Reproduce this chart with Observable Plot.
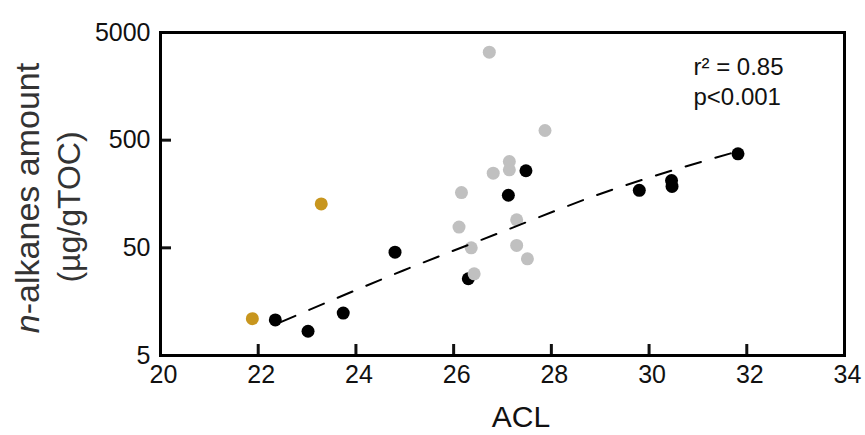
<!DOCTYPE html>
<html><head><meta charset="utf-8">
<script src="https://cdn.jsdelivr.net/npm/d3@7"></script>
<script src="https://cdn.jsdelivr.net/npm/@observablehq/plot@0.6"></script>
<style>body{margin:0;background:#fff;}</style>
</head><body><div id="chart"></div>
<script>
const xTicks = [20, 22, 24, 26, 28, 30, 32, 34];
const yTicks = [5, 50, 500, 5000];
const blackACL = [22.35, 23.02, 23.74, 24.80, 26.30, 27.12, 27.48, 29.80, 30.46, 30.47, 31.82];
const blackAmount = [10.7, 8.4, 12.4, 45.6, 25.8, 154, 260, 171, 211, 186, 373];
const grayACL = [26.73, 27.87, 27.14, 27.14, 26.81, 26.16, 26.11, 27.29, 26.36, 27.29, 27.51, 26.42];
const grayAmount = [3280, 615, 317, 265, 247, 163, 78, 91, 50, 52.6, 39.5, 28.7];
const goldACL = [21.88, 23.29];
const goldAmount = [11.0, 128];
const trendACL = [22.46, 24.97, 26.92, 29.01, 31.81];
const trendAmount = [10.2, 30.8, 68.4, 159, 393];
const statsText = "r² = 0.85\np<0.001";
const xLabel = "ACL";
const yLabelItalic = "n";
const yLabelRest = "-alkanes amount";
const yLabelUnit = "(µg/gTOC)";

const zip = (xs, ys) => xs.map((x, i) => ({x, y: ys[i]}));
const black = zip(blackACL, blackAmount);
const gray = zip(grayACL, grayAmount);
const gold = zip(goldACL, goldAmount);
const trend = zip(trendACL, trendAmount);

const plot = Plot.plot({
  width: 865,
  height: 435,
  marginLeft: 160,
  marginRight: 21,
  marginTop: 32,
  marginBottom: 80,
  style: {fontFamily: "'Liberation Sans', Arial, sans-serif", background: "#fff", color: "#111"},
  x: {domain: [20, 34]},
  y: {type: "log", domain: [5, 5000]},
  marks: [
    Plot.axisX({anchor: "bottom", ticks: xTicks, tickSize: -11, strokeWidth: 3, fill: "none", label: null, tickFormat: () => ""}),
    Plot.axisX({anchor: "bottom", ticks: xTicks, tickSize: 0, tickPadding: 10, fontSize: 25, label: null, dx: 3, tickFormat: d => String(d)}),
    Plot.axisY({anchor: "left", ticks: yTicks, tickSize: -11, strokeWidth: 3, fill: "none", label: null, tickFormat: () => ""}),
    Plot.text(yTicks, {y: d => d, text: d => String(d), frameAnchor: "left", textAnchor: "end", dx: -10, fontSize: 25, fill: "#111"}),
    Plot.frame({stroke: "#000", strokeWidth: 3}),
    Plot.dot(black, {x: "x", y: "y", r: 6.5, fill: "#000", stroke: "none"}),
    Plot.dot(gray, {x: "x", y: "y", r: 6.5, fill: "#c0c0c0", stroke: "none"}),
    Plot.dot(gold, {x: "x", y: "y", r: 6.5, fill: "#c8961e", stroke: "none"}),
    Plot.line(trend, {x: "x", y: "y", curve: "monotone-x", stroke: "#000", strokeWidth: 2, strokeDasharray: "16,15"}),
    Plot.text([statsText], {frameAnchor: "top-right", textAnchor: "start", lineAnchor: "top", dx: -151, dy: 21, fontSize: 24, lineHeight: 1.25, fill: "#111"})
  ]
});

const svg = d3.select(plot);
const t1 = svg.append("text")
  .attr("transform", "translate(39,198) rotate(-90)")
  .attr("text-anchor", "middle")
  .attr("font-size", 34)
  .attr("fill", "#333");
t1.append("tspan").attr("font-style", "italic").text(yLabelItalic);
t1.append("tspan").text(yLabelRest);
svg.append("text")
  .attr("transform", "translate(80,207) rotate(-90)")
  .attr("text-anchor", "middle")
  .attr("font-size", 32)
  .attr("fill", "#333")
  .text(yLabelUnit);
svg.append("text")
  .attr("x", 521)
  .attr("y", 427)
  .attr("text-anchor", "middle")
  .attr("font-size", 30)
  .attr("fill", "#111")
  .text(xLabel);

document.getElementById("chart").appendChild(plot);
</script>
</body></html>
